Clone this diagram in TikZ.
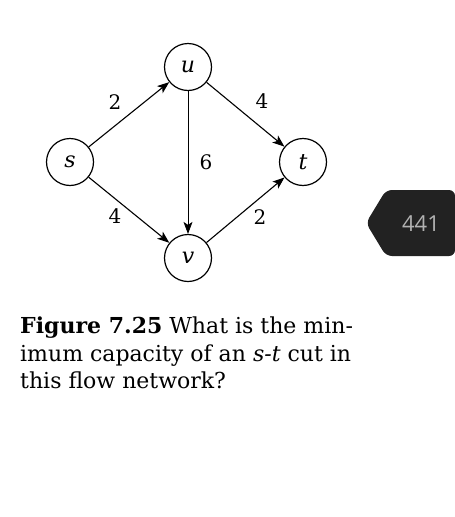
\documentclass[tikz,border=0pt]{standalone}
\usepackage{fontspec}
\setmainfont{DejaVu Serif}
\newfontfamily\tabfont{Open Sans}
\usepackage{tikz}
\usetikzlibrary{arrows.meta,positioning,calc}
\definecolor{tabdark}{RGB}{34,34,34}
\definecolor{tabtext}{RGB}{178,178,178}

\begin{document}
\begin{tikzpicture}[x=1pt,y=-1pt,
    vert/.style={circle, draw, line width=1.2pt, minimum size=47pt, inner sep=0pt, font=\itshape\fontsize{22}{26}\selectfont},
    flow/.style={-{Stealth[length=12pt,width=9pt,inset=3pt]}, line width=1.1pt},
    wlabel/.style={font=\fontsize{20}{24}\selectfont},
    captext/.style={font=\fontsize{22}{27.5}\selectfont}]
        \useasboundingbox (0,0) rectangle (455,517);
        % --- the network
        \node[vert] (s) at (70,162) {s};
        \node[vert] (u) at (188,67) {u};
        \node[vert] (t) at (303,162) {t};
        \node[vert] (v) at (188,258) {v};
        \draw[flow] (s) -- (u);
        \draw[flow] (u) -- (t);
        \draw[flow, line width=0.8pt] (u) -- (v);
        \draw[flow] (s) -- (v);
        \draw[flow] (v) -- (t);
        \node[wlabel] (su) at (115,102) {2};
        \node[wlabel] (ut) at (262,101) {4};
        \node[wlabel] (uv) at (206,162) {6};
        \node[wlabel] (sv) at (115,216) {4};
        \node[wlabel] (vt) at (260,217) {2};
        % --- page tab
        \fill[tabdark, rounded corners=6pt] (455,190) -- (386,190) -- (366,223) -- (386,256) -- (455,256) -- cycle;
        \node[text=tabtext, font=\tabfont\fontsize{22}{26}\selectfont] (page) at (421,224) {441};
        % --- caption
        \node[captext, anchor=north west, align=left, inner sep=0pt] (caption) at (20,317)
          {\textbf{Figure 7.25}\ What is the min-\\imum capacity of an \textit{s-t} cut in\\this flow network?};
\end{tikzpicture}
\end{document}
